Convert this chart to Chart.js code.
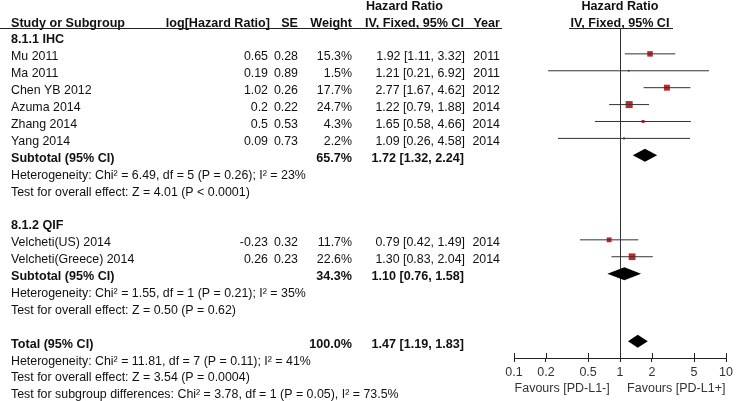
<!DOCTYPE html>
<html>
<head>
<meta charset="utf-8">
<script src="https://cdn.jsdelivr.net/npm/chart.js@4"></script>
<style>
  html, body { margin: 0; padding: 0; background: #fff; }
  #wrap { width: 740px; height: 401px; position: relative; }
</style>
</head>
<body>
<div id="wrap"><canvas id="forest"></canvas></div>
<script>
// study level data
var studies = ['Mu 2011', 'Ma 2011', 'Chen YB 2012', 'Azuma 2014', 'Zhang 2014', 'Yang 2014', 'Velcheti(US) 2014', 'Velcheti(Greece) 2014'];
var logHR = ['0.65', '0.19', '1.02', '0.2', '0.5', '0.09', '-0.23', '0.26'];
var se = ['0.28', '0.89', '0.26', '0.22', '0.53', '0.73', '0.32', '0.23'];
var weights = [15.3, 1.5, 17.7, 24.7, 4.3, 2.2, 11.7, 22.6];
var hr = [1.92, 1.21, 2.77, 1.22, 1.65, 1.09, 0.79, 1.30];
var hrLow = [1.11, 0.21, 1.67, 0.79, 0.58, 0.26, 0.42, 0.83];
var hrHigh = [3.32, 6.92, 4.62, 1.88, 4.66, 4.58, 1.49, 2.04];
var years = ['2011', '2011', '2012', '2014', '2014', '2014', '2014', '2014'];
var studyRows = [1, 2, 3, 4, 5, 6, 12, 13];

// subtotals and total
var sumLabels = ['Subtotal (95% CI)', 'Subtotal (95% CI)', 'Total (95% CI)'];
var sumWeights = ['65.7%', '34.3%', '100.0%'];
var sumHR = [1.72, 1.10, 1.47];
var sumLow = [1.32, 0.76, 1.19];
var sumHigh = [2.24, 1.58, 1.83];
var sumRows = [7, 14, 18];

var groupLabels = ['8.1.1 IHC', '8.1.2 QIF'];
var groupRows = [0, 11];

var notes = [
    'Heterogeneity: Chi\u00b2 = 6.49, df = 5 (P = 0.26); I\u00b2 = 23%',
    'Test for overall effect: Z = 4.01 (P < 0.0001)',
    'Heterogeneity: Chi\u00b2 = 1.55, df = 1 (P = 0.21); I\u00b2 = 35%',
    'Test for overall effect: Z = 0.50 (P = 0.62)',
    'Heterogeneity: Chi\u00b2 = 11.81, df = 7 (P = 0.11); I\u00b2 = 41%',
    'Test for overall effect: Z = 3.54 (P = 0.0004)',
    'Test for subgroup differences: Chi\u00b2 = 3.78, df = 1 (P = 0.05), I\u00b2 = 73.5%'
];
var noteRows = [8, 9, 15, 16, 19, 20, 21];

var xTicks = [0.1, 0.2, 0.5, 1, 2, 5, 10];
var xTickLabels = ['0.1', '0.2', '0.5', '1', '2', '5', '10'];
var favours = 'Favours [PD-L1-]     Favours [PD-L1+]';

var FONT = '"Liberation Sans", Arial, sans-serif';
var RED = '#c1262d';
var LINE = '#333';

function fmt(v) { return v.toFixed(2); }

// one line dataset per confidence interval
var datasets = [];
for (var i = 0; i < studies.length; i++) {
    datasets.push({
        type: 'line',
        data: [{x: hrLow[i], y: studyRows[i]}, {x: hrHigh[i], y: studyRows[i]}],
        borderColor: LINE,
        borderWidth: 1,
        pointRadius: 0,
        fill: false
    });
}
datasets.push({
    type: 'scatter',
    data: studies.map(function (s, i) { return {x: hr[i], y: studyRows[i]}; }),
    pointStyle: 'rect',
    pointRadius: weights.map(function (w) { return Math.sqrt(w); }),
    backgroundColor: RED,
    borderWidth: 0
});

var tablePlugin = {
    id: 'table',
    afterDraw: function (chart) {
        var ctx = chart.ctx;
        var xs = chart.scales.x, ys = chart.scales.y;
        var area = chart.chartArea;
        function rowY(r) { return ys.getPixelForValue(r) + 3; }
        function txt(s, x, r, align, bold) {
            ctx.font = bold ? 'bold 12.6px ' + FONT : '12.4px ' + FONT;
            ctx.textAlign = align;
            ctx.textBaseline = 'middle';
            ctx.fillStyle = '#111';
            ctx.fillText(s, x, rowY(r));
        }
        ctx.save();
        // header
        txt('Study or Subgroup', 11, -1, 'left', true);
        txt('log[Hazard Ratio]', 270, -1, 'right', true);
        txt('SE', 298, -1, 'right', true);
        txt('Weight', 352, -1, 'right', true);
        txt('Hazard Ratio', 366, -2, 'left', true);
        txt('IV, Fixed, 95% CI', 365, -1, 'left', true);
        txt('Year', 500, -1, 'right', true);
        var cx = xs.getPixelForValue(1);
        txt('Hazard Ratio', cx, -2, 'center', true);
        txt('IV, Fixed, 95% CI', cx, -1, 'center', true);

        ctx.strokeStyle = '#222';
        ctx.lineWidth = 1;
        ctx.beginPath();
        ctx.moveTo(0, area.top + 0.5);
        ctx.lineTo(502, area.top + 0.5);
        ctx.moveTo(cx - 51, area.top + 0.5);
        ctx.lineTo(cx + 53, area.top + 0.5);
        ctx.stroke();

        for (var g = 0; g < groupLabels.length; g++) {
            txt(groupLabels[g], 11, groupRows[g], 'left', true);
        }
        for (var i = 0; i < studies.length; i++) {
            var r = studyRows[i];
            txt(studies[i], 11, r, 'left', false);
            txt(logHR[i], 268, r, 'right', false);
            txt(se[i], 298, r, 'right', false);
            txt(weights[i].toFixed(1) + '%', 352, r, 'right', false);
            txt(fmt(hr[i]) + ' [' + fmt(hrLow[i]) + ', ' + fmt(hrHigh[i]) + ']', 465, r, 'right', false);
            txt(years[i], 500, r, 'right', false);
        }
        for (var s = 0; s < sumLabels.length; s++) {
            var rr = sumRows[s];
            txt(sumLabels[s], 11, rr, 'left', true);
            txt(sumWeights[s], 352, rr, 'right', true);
            txt(fmt(sumHR[s]) + ' [' + fmt(sumLow[s]) + ', ' + fmt(sumHigh[s]) + ']', 464, rr, 'right', true);
        }
        for (var n = 0; n < notes.length; n++) {
            txt(notes[n], 11, noteRows[n], 'left', false);
        }
        // upper half of the axis ticks
        ctx.strokeStyle = '#222';
        ctx.beginPath();
        xTicks.forEach(function (v) {
            var px = Math.round(xs.getPixelForValue(v)) + 0.5;
            ctx.moveTo(px, area.bottom - 5);
            ctx.lineTo(px, area.bottom);
        });
        ctx.stroke();
        ctx.restore();
    }
};

var diamondPlugin = {
    id: 'diamonds',
    beforeDatasetsDraw: function (chart) {
        var ctx = chart.ctx;
        var xs = chart.scales.x;
        var area = chart.chartArea;
        ctx.save();
        // line of no effect
        var cx = Math.round(xs.getPixelForValue(1)) + 0.5;
        ctx.strokeStyle = LINE;
        ctx.lineWidth = 1;
        ctx.beginPath();
        ctx.moveTo(cx, area.top);
        ctx.lineTo(cx, area.bottom);
        ctx.stroke();
        ctx.restore();
    },
    afterDatasetsDraw: function (chart) {
        var ctx = chart.ctx;
        var xs = chart.scales.x, ys = chart.scales.y;
        ctx.save();
        ctx.fillStyle = '#000';
        for (var s = 0; s < sumHR.length; s++) {
            var y = ys.getPixelForValue(sumRows[s]);
            var l = xs.getPixelForValue(sumLow[s]);
            var m = xs.getPixelForValue(sumHR[s]);
            var h = xs.getPixelForValue(sumHigh[s]);
            ctx.beginPath();
            ctx.moveTo(l, y);
            ctx.lineTo(m, y - 6.5);
            ctx.lineTo(h, y);
            ctx.lineTo(m, y + 6.5);
            ctx.closePath();
            ctx.fill();
        }
        ctx.restore();
    }
};

var chart = new Chart(document.getElementById('forest'), {
    type: 'scatter',
    data: {datasets: datasets},
    options: {
        responsive: true,
        maintainAspectRatio: false,
        animation: false,
        layout: {padding: {left: 514, right: 14, top: 28, bottom: 0}},
        plugins: {legend: {display: false}, tooltip: {enabled: false}},
        scales: {
            x: {
                type: 'logarithmic',
                min: 0.1,
                max: 10,
                afterFit: function (scale) { scale.height = 43; },
                afterBuildTicks: function (scale) {
                    scale.ticks = xTicks.map(function (v) { return {value: v}; });
                },
                border: {display: true, color: '#222', width: 1},
                grid: {drawOnChartArea: false, drawTicks: true, tickLength: 4, color: '#222'},
                ticks: {
                    autoSkip: false,
                    maxRotation: 0,
                    padding: 3,
                    color: '#333',
                    font: {family: FONT, size: 12.5},
                    callback: function (v, i) { return xTickLabels[i]; }
                },
                title: {
                    display: true,
                    text: favours,
                    color: '#333',
                    font: {family: FONT, size: 12.5},
                    padding: {top: 0, bottom: 5}
                }
            },
            y: {
                type: 'linear',
                display: false,
                reverse: true,
                min: -0.53,
                max: 18.99
            }
        }
    },
    plugins: [tablePlugin, diamondPlugin]
});
</script>
</body>
</html>
